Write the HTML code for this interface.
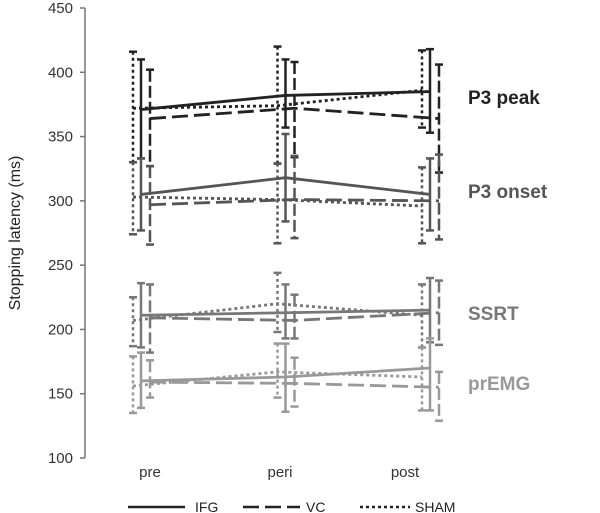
<!DOCTYPE html>
<html><head><meta charset="utf-8"><style>
body{margin:0;background:#fff;}
svg{font-family:"Liberation Sans",sans-serif;display:block;}
</style></head><body>
<svg id="chart" width="600" height="513">
<g id="axes"></g><g id="marks"></g><g id="labels"></g><g id="legend"></g>
</svg>
<script>
const categories=["pre","peri","post"];
const measures=["P3 peak","P3 onset","SSRT","prEMG"];
const groups=["IFG","VC","SHAM"];
const yTicks=[100,150,200,250,300,350,400,450];
// means [measure][group][time]
const meanIFG=[[371,382,385],[305,318,305],[211,213,215],[160,163,170]];
const meanVC=[[364,372,364],[297,301,300],[209,207,213],[159,158,155]];
const meanSHAM=[[372,374,386],[303,301,296],[207,220,211],[156,167,163]];
const hiIFG=[[410,410,418],[333,352,333],[236,235,240],[182,189,193]];
const loIFG=[[333,357,353],[277,284,277],[186,193,190],[139,136,137]];
const hiVC=[[402,408,406],[327,335,336],[235,227,238],[176,178,167]];
const loVC=[[327,334,322],[266,271,270],[182,193,188],[147,140,129]];
const hiSHAM=[[416,420,417],[330,329,326],[225,244,235],[179,189,186]];
const loSHAM=[[330,329,357],[274,267,267],[187,198,186],[135,147,137]];

const NS="http://www.w3.org/2000/svg";
const y=v=>458-(v-100)*450/350;
const xc=i=>141+i*144.5;
const groupOffset={IFG:0,VC:9,SHAM:-8};
const dash={IFG:"none",VC:"16,6",SHAM:"3,3"};
const colors=["#222","#555","#777","#999"];
function mk(tag,attrs,parent){const e=document.createElementNS(NS,tag);for(const k in attrs)e.setAttribute(k,attrs[k]);parent.appendChild(e);return e;}
const axes=document.getElementById("axes"),marks=document.getElementById("marks"),labels=document.getElementById("labels"),legend=document.getElementById("legend");
const al=mk("line",{x1:85,y1:y(450),x2:85,y2:y(100),stroke:"#777","stroke-width":1.5},axes);


yTicks.forEach(t=>{
 const tk=mk("line",{x1:80,x2:85,y1:y(t),y2:y(t),stroke:"#777","stroke-width":1.5},axes);
 
 
 const tl=mk("text",{x:73,y:y(t)+5,"text-anchor":"end","font-size":15,fill:"#333"},axes);
 tl.textContent=t;
 
 
});
const xlPos=[150,280,405];
categories.forEach((c,i)=>{
 const t=mk("text",{x:xlPos[i],y:477,"text-anchor":"middle","font-size":15,fill:"#333"},axes);
 t.textContent=c;
 
 
});
const yt=mk("text",{x:0,y:0,transform:"translate(20,233) rotate(-90)","text-anchor":"middle","font-size":16,fill:"#222"},axes);
yt.textContent="Stopping latency (ms)";


const data={IFG:[meanIFG,hiIFG,loIFG],VC:[meanVC,hiVC,loVC],SHAM:[meanSHAM,hiSHAM,loSHAM]};
measures.forEach((m,mi)=>{
 groups.forEach(g=>{
  const [mean,hi,lo]=data[g];
  const col=colors[mi];
  categories.forEach((c,i)=>{
   const x=xc(i)+groupOffset[g];
   const b=mk("line",{x1:x,x2:x,y1:y(hi[mi][i]),y2:y(lo[mi][i]),stroke:col,"stroke-width":2.5,"stroke-dasharray":g==="SHAM"?"3,3":(g==="VC"?"12,4":"none")},marks);
   
   
   [hi[mi][i],lo[mi][i]].forEach(v=>{
    const cap=mk("line",{x1:x-4,x2:x+4,y1:y(v),y2:y(v),stroke:col,"stroke-width":2.5},marks);
    
    
   });
  });
  const pts=categories.map((c,i)=>(xc(i)+groupOffset[g])+","+y(mean[mi][i])).join(" ");
  const pl=mk("polyline",{points:pts,fill:"none",stroke:col,"stroke-width":2.8,"stroke-dasharray":dash[g]},marks);
  
  
 });
});
const labY=[104,198,320,390];
measures.forEach((m,mi)=>{
 const t=mk("text",{x:468,y:labY[mi],"font-size":19,"font-weight":"bold",fill:colors[mi]},labels);
 t.textContent=m;
 
 
});
const lg=[[128,185,195],[243,300,306],[360,410,415]];
groups.forEach((g,i)=>{
 const l=mk("line",{x1:lg[i][0],x2:lg[i][1],y1:507,y2:507,stroke:"#222","stroke-width":2.5,"stroke-dasharray":dash[g]},legend);
 
 
 const t=mk("text",{x:lg[i][2],y:512,"font-size":14,fill:"#222"},legend);
 t.textContent=g;
 
 
});
</script>
</body></html>
